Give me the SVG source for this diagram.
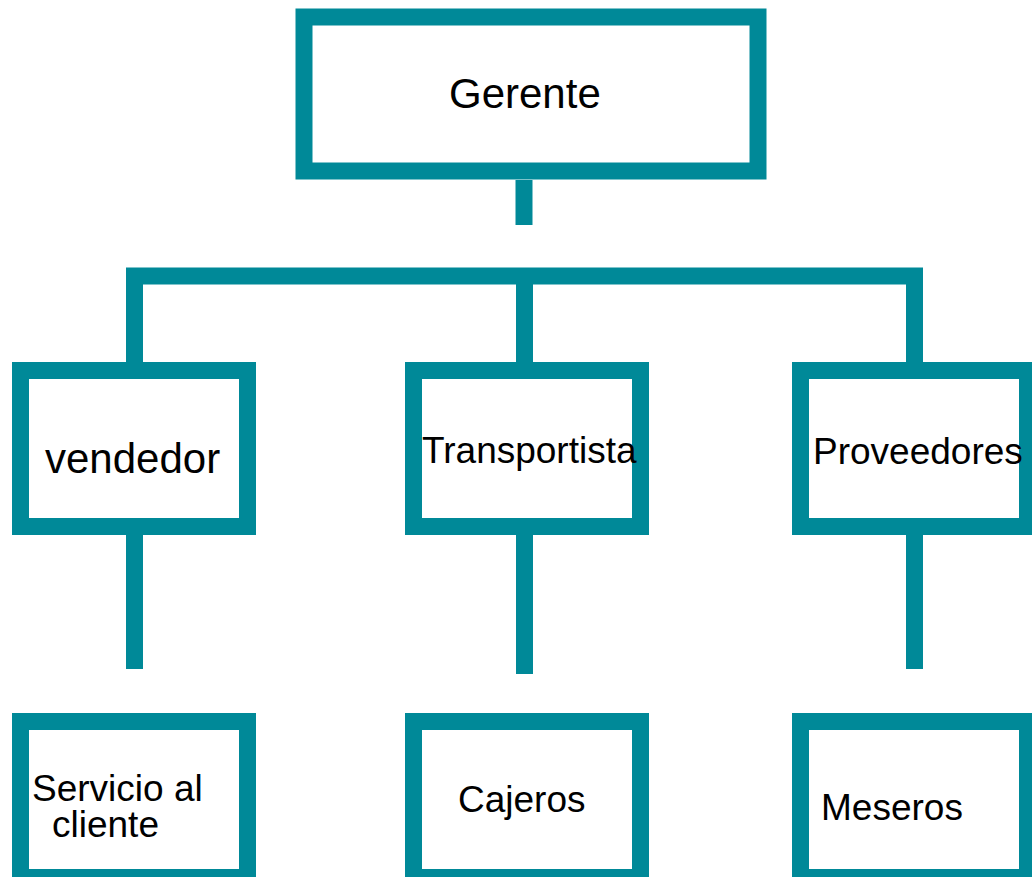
<svg xmlns="http://www.w3.org/2000/svg" width="1032" height="877" viewBox="0 0 1032 877">
<style>
.box{fill:#ffffff;stroke:#008998;stroke-width:17}
.con{fill:none;stroke:#008998;stroke-width:17;stroke-linejoin:miter;stroke-linecap:butt}
text{font-family:"Liberation Sans",Arial,sans-serif;fill:#000000}
.big{font-size:42px}
.sm{font-size:37px}
</style>
<rect width="1032" height="877" fill="#ffffff"/>
<g id="connectors">
<path class="con" d="M524 180V225"/>
<path class="con" d="M134.5 362V276H914.5V362"/>
<path class="con" d="M524.5 276V362"/>
<path class="con" d="M134.5 535V669"/>
<path class="con" d="M524.5 535V674"/>
<path class="con" d="M914.5 535V669"/>
</g>
<g id="gerente"><rect class="box" x="304" y="17" width="454" height="154"/><text class="big" x="449" y="108">Gerente</text></g>
<g id="vendedor"><rect class="box" x="20.5" y="370.5" width="227" height="156"/><text class="big" x="45" y="473">vendedor</text></g>
<g id="transportista"><rect class="box" x="413.5" y="370.5" width="227" height="156"/><text class="sm" x="422" y="463">Transportista</text></g>
<g id="proveedores"><rect class="box" x="800.5" y="370.5" width="227" height="156"/><text class="sm" x="813" y="464">Proveedores</text></g>
<g id="servicio"><rect class="box" x="20.5" y="721.5" width="227" height="156"/><text class="sm" x="32" y="801">Servicio al</text><text class="sm" x="52" y="837">cliente</text></g>
<g id="cajeros"><rect class="box" x="413.5" y="721.5" width="227" height="156"/><text class="sm" x="458" y="812">Cajeros</text></g>
<g id="meseros"><rect class="box" x="800.5" y="721.5" width="227" height="156"/><text class="sm" x="821" y="820">Meseros</text></g>
</svg>
